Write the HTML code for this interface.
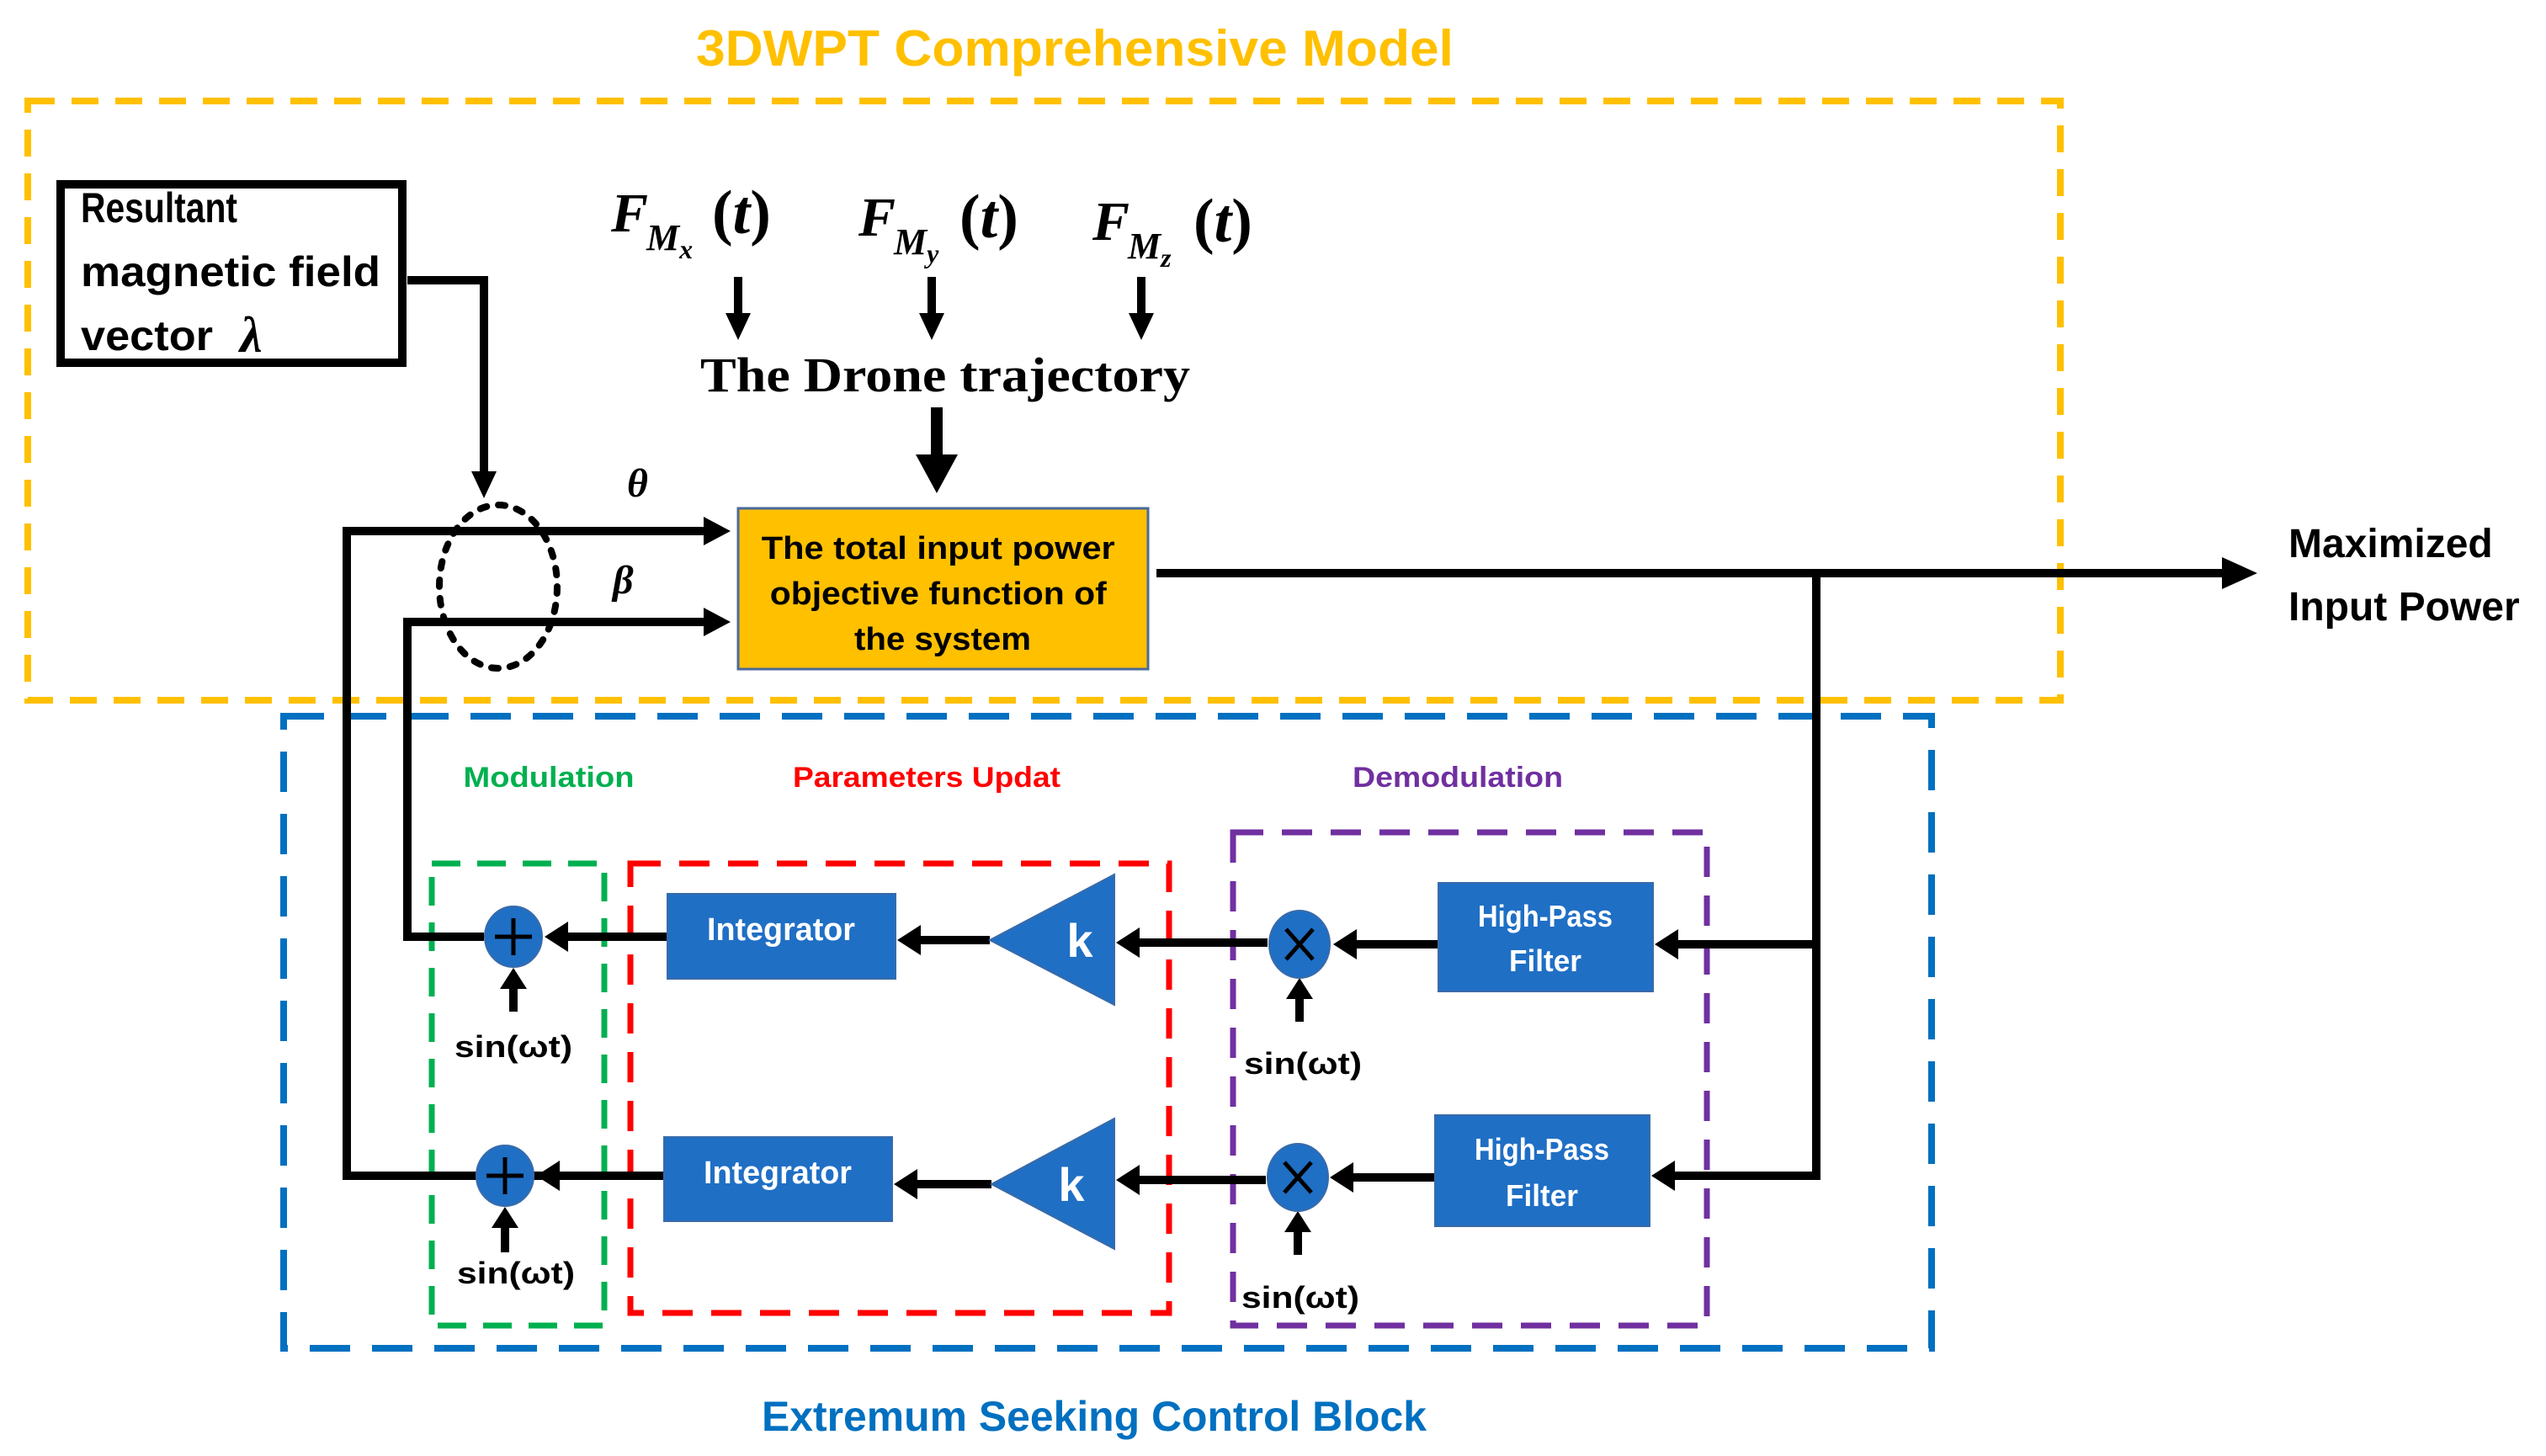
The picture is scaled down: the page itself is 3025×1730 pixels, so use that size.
<!DOCTYPE html>
<html><head><meta charset="utf-8"><style>
html,body{margin:0;padding:0;background:#fff;}
svg{display:block;}
.c{font-family:"Liberation Sans",sans-serif;font-weight:bold;}
.s{font-family:"Liberation Serif",serif;font-weight:bold;}
</style></head><body>
<svg width="3025" height="1730" viewBox="0 0 3025 1730" xmlns="http://www.w3.org/2000/svg">
<text class="c" x="1277" y="78" font-size="60" fill="#FFC000" text-anchor="middle" textLength="900" lengthAdjust="spacingAndGlyphs">3DWPT Comprehensive Model</text>
<rect x="33" y="120" width="2415" height="712" fill="none" stroke="#FFC000" stroke-width="8" stroke-dasharray="32,20"/>
<rect x="337" y="851" width="1958" height="751" fill="none" stroke="#0070C0" stroke-width="8" stroke-dasharray="48,26"/>
<text class="c" x="1300" y="1700" font-size="50" fill="#0070C0" text-anchor="middle" textLength="790" lengthAdjust="spacingAndGlyphs">Extremum Seeking Control Block</text>
<text class="c" x="652" y="935" font-size="34" fill="#00B050" text-anchor="middle" textLength="203" lengthAdjust="spacingAndGlyphs">Modulation</text>
<text class="c" x="1101" y="935" font-size="34" fill="#FF0000" text-anchor="middle" textLength="318" lengthAdjust="spacingAndGlyphs">Parameters Updat</text>
<text class="c" x="1732" y="935" font-size="34" fill="#7030A0" text-anchor="middle" textLength="250" lengthAdjust="spacingAndGlyphs">Demodulation</text>
<rect x="513" y="1026" width="205" height="549" fill="none" stroke="#00B050" stroke-width="7" stroke-dasharray="34,20"/>
<rect x="749" y="1026" width="640" height="534" fill="none" stroke="#FF0000" stroke-width="7" stroke-dasharray="36,22"/>
<rect x="1465" y="989" width="563" height="586" fill="none" stroke="#7030A0" stroke-width="7" stroke-dasharray="36,22"/>

<rect x="72" y="219" width="406" height="212" fill="#fff" stroke="#000" stroke-width="10"/>
<text class="c" font-size="50" fill="#000">
<tspan x="96" y="264" textLength="186" lengthAdjust="spacingAndGlyphs">Resultant</tspan>
<tspan x="96" y="340" textLength="356" lengthAdjust="spacingAndGlyphs">magnetic field</tspan>
<tspan x="96" y="416" textLength="157" lengthAdjust="spacingAndGlyphs">vector</tspan></text>
<text class="s" x="285" y="418" font-size="60" font-style="italic" fill="#000">λ</text>

<g class="s" font-style="italic" fill="#000">
<text x="726" y="275" font-size="66">F</text><text x="768" y="297" font-size="44">M<tspan font-size="32" dy="10">x</tspan></text><text x="846" y="277" font-size="74" font-style="normal">(<tspan font-style="italic">t</tspan>)</text>
<text x="1020" y="280" font-size="66">F</text><text x="1062" y="302" font-size="44">M<tspan font-size="32" dy="10">y</tspan></text><text x="1140" y="282" font-size="74" font-style="normal">(<tspan font-style="italic">t</tspan>)</text>
<text x="1298" y="285" font-size="66">F</text><text x="1340" y="307" font-size="44">M<tspan font-size="32" dy="10">z</tspan></text><text x="1418" y="287" font-size="74" font-style="normal">(<tspan font-style="italic">t</tspan>)</text>
</g>
<g fill="#000">
<rect x="872" y="329" width="10" height="45"/><polygon points="862,372 892,372 877,404"/>
<rect x="1102" y="329" width="10" height="45"/><polygon points="1092,372 1122,372 1107,404"/>
<rect x="1351" y="329" width="10" height="45"/><polygon points="1341,372 1371,372 1356,404"/>
</g>
<text class="s" x="1123" y="465" font-size="58" fill="#000" text-anchor="middle" textLength="582" lengthAdjust="spacingAndGlyphs">The Drone trajectory</text>
<rect x="1106" y="484" width="14" height="60" fill="#000"/><polygon points="1088,540 1138,540 1113,586" fill="#000"/>

<rect x="877" y="604" width="487" height="191" fill="#FFC000" stroke="#4a6a9a" stroke-width="3"/>
<text class="c" font-size="38" fill="#000" text-anchor="middle">
<tspan x="1120" y="664" textLength="420" lengthAdjust="spacingAndGlyphs">The total input power</tspan>
<tspan x="1120" y="718" textLength="400" lengthAdjust="spacingAndGlyphs">objective function of</tspan>
<tspan x="1120" y="772" textLength="210" lengthAdjust="spacingAndGlyphs">the system</tspan></text>

<g stroke="#000" stroke-width="10" fill="none">
<polyline points="484,333 575,333 575,565"/>
<polyline points="645,1397 412,1397 412,631 840,631"/>
<polyline points="575,1113 484,1113 484,739 840,739"/>
<line x1="1374" y1="681" x2="2650" y2="681"/>
<polyline points="2158,681 2158,1397 1990,1397"/>
<line x1="2158" y1="1122" x2="1990" y2="1122"/>
<line x1="1709" y1="1122" x2="1605" y2="1122"/>
<line x1="1506" y1="1120" x2="1350" y2="1120"/>
<line x1="1176" y1="1117" x2="1090" y2="1117"/>
<line x1="793" y1="1113" x2="670" y2="1113"/>
<line x1="1705" y1="1399" x2="1602" y2="1399"/>
<line x1="1504" y1="1402" x2="1350" y2="1402"/>
<line x1="1178" y1="1407" x2="1086" y2="1407"/>
<line x1="789" y1="1397" x2="660" y2="1397"/>
</g>
<g fill="#000">
<polygon points="575,592 560,560 590,560"/>
<polygon points="868,631 836,614 836,648"/>
<polygon points="868,739 836,722 836,756"/>
<polygon points="2682,681 2640,662 2640,700"/>
<polygon points="1966,1122 1994,1104 1994,1140"/>
<polygon points="1584,1122 1612,1104 1612,1140"/>
<polygon points="1326,1120 1354,1102 1354,1138"/>
<polygon points="1066,1117 1094,1099 1094,1135"/>
<polygon points="647,1113 675,1095 675,1131"/>
<polygon points="1962,1397 1990,1379 1990,1415"/>
<polygon points="1580,1399 1608,1381 1608,1417"/>
<polygon points="1326,1402 1354,1384 1354,1420"/>
<polygon points="1062,1407 1090,1389 1090,1425"/>
<polygon points="637,1397 665,1379 665,1415"/>
<rect x="605" y="1168" width="10" height="34"/><polygon points="610,1150 594,1175 626,1175"/>
<rect x="595" y="1452" width="10" height="36"/><polygon points="600,1434 584,1459 616,1459"/>
<rect x="1539" y="1178" width="10" height="36"/><polygon points="1544,1162 1528,1187 1560,1187"/>
<rect x="1537" y="1455" width="10" height="36"/><polygon points="1542,1439 1526,1464 1558,1464"/>
</g>
<ellipse cx="592" cy="697" rx="70" ry="97" fill="none" stroke="#000" stroke-width="8" stroke-dasharray="8,14" stroke-linecap="round"/>
<text class="s" x="745" y="590" font-size="48" font-style="italic" font-weight="normal" fill="#000">θ</text>
<text class="s" x="728" y="705" font-size="48" font-style="italic" font-weight="normal" fill="#000">β</text>

<text class="c" font-size="48" fill="#000"><tspan x="2719" y="662">Maximized</tspan><tspan x="2719" y="737">Input Power</tspan></text>

<g fill="#1F6FC5" stroke="#3a6aa8" stroke-width="2">
<rect x="793" y="1062" width="271" height="101"/>
<rect x="789" y="1351" width="271" height="100"/>
<rect x="1709" y="1049" width="255" height="129"/>
<rect x="1705" y="1325" width="255" height="132"/>
<polygon points="1176,1117 1324,1039 1324,1194"/>
<polygon points="1178,1407 1324,1329 1324,1484"/>
<ellipse cx="610" cy="1113" rx="34" ry="36"/>
<ellipse cx="600" cy="1397" rx="34" ry="36"/>
<ellipse cx="1544" cy="1122" rx="36" ry="40"/>
<ellipse cx="1542" cy="1399" rx="36" ry="40"/>
</g>
<g stroke="#000" stroke-width="5">
<line x1="588" y1="1113" x2="632" y2="1113"/><line x1="610" y1="1091" x2="610" y2="1135"/>
<line x1="578" y1="1397" x2="622" y2="1397"/><line x1="600" y1="1375" x2="600" y2="1419"/>
<line x1="1528" y1="1104" x2="1560" y2="1140"/><line x1="1560" y1="1104" x2="1528" y2="1140"/>
<line x1="1526" y1="1381" x2="1558" y2="1417"/><line x1="1558" y1="1381" x2="1526" y2="1417"/>
</g>
<g class="c" fill="#fff" text-anchor="middle">
<text x="928" y="1117" font-size="38" textLength="176" lengthAdjust="spacingAndGlyphs">Integrator</text>
<text x="924" y="1406" font-size="38" textLength="176" lengthAdjust="spacingAndGlyphs">Integrator</text>
<text x="1836" y="1101" font-size="36" textLength="160" lengthAdjust="spacingAndGlyphs">High-Pass</text>
<text x="1836" y="1154" font-size="36" textLength="86" lengthAdjust="spacingAndGlyphs">Filter</text>
<text x="1832" y="1378" font-size="36" textLength="160" lengthAdjust="spacingAndGlyphs">High-Pass</text>
<text x="1832" y="1433" font-size="36" textLength="86" lengthAdjust="spacingAndGlyphs">Filter</text>
<text x="1283" y="1137" font-size="56">k</text>
<text x="1273" y="1427" font-size="56">k</text>
</g>
<g class="c" font-size="36" fill="#000" font-weight="normal" text-anchor="middle">
<text x="610" y="1256" textLength="140" lengthAdjust="spacingAndGlyphs">sin(ωt)</text>
<text x="613" y="1525" textLength="140" lengthAdjust="spacingAndGlyphs">sin(ωt)</text>
<text x="1548" y="1276" textLength="140" lengthAdjust="spacingAndGlyphs">sin(ωt)</text>
<text x="1545" y="1554" textLength="140" lengthAdjust="spacingAndGlyphs">sin(ωt)</text>
</g>
</svg>
</body></html>
